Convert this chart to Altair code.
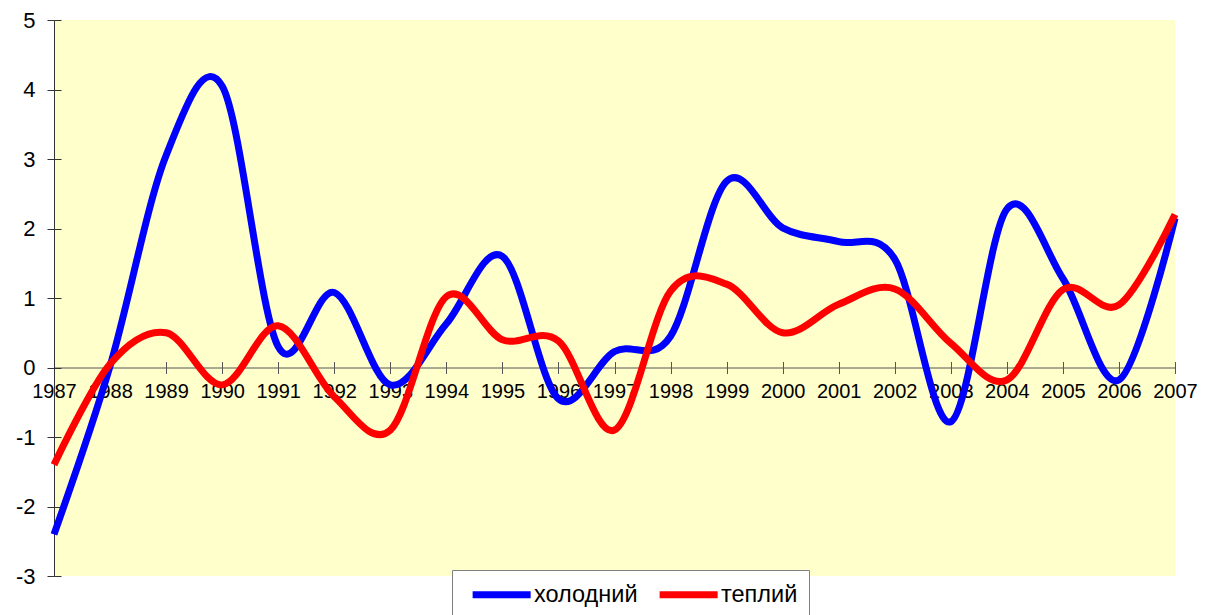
import altair as alt
import pandas as pd

years = list(range(1987, 2008))
cold = [-2.4, 0.02, 3.05, 4.05, 0.3, 1.08, -0.25, 0.63, 1.6, -0.45, 0.23,
        0.45, 2.68, 2.01, 1.81, 1.56, -0.78, 2.28, 1.28, -0.18, 2.15]
warm = [-1.4, 0.05, 0.5, -0.25, 0.6, -0.42, -0.9, 1.02, 0.4, 0.38, -0.9,
        1.1, 1.2, 0.5, 0.91, 1.13, 0.35, -0.18, 1.12, 0.9, 2.2]
series_names = ["холодний", "теплий"]
series_colors = ["#0000FF", "#FF0000"]
y_ticks = [-3, -2, -1, 0, 1, 2, 3, 4, 5]

rows = []
for y, c, w in zip(years, cold, warm):
    rows.append({"year": y, "value": c, "series": series_names[0]})
    rows.append({"year": y, "value": w, "series": series_names[1]})
df = pd.DataFrame(rows)

W, H = 1121, 556
FONT = "Liberation Sans"
zero_offset = -(H * 3 / 8)  # distance from bottom to y=0

x_scale = alt.Scale(domain=[1987, 2007], nice=False, zero=False)
y_scale = alt.Scale(domain=[-3, 5], nice=False)

lines = alt.Chart(df).mark_line(strokeWidth=7, interpolate="cardinal").encode(
    x=alt.X("year:Q", scale=x_scale,
            axis=alt.Axis(values=years, format="d", title=None, orient="bottom",
                          offset=zero_offset, labelOverlap=False, labelFlush=False,
                          labelBound=False, tickSize=6, labelPadding=8,
                          labelFontSize=20, labelFont=FONT, labelColor="black",
                          domainColor="#555555", tickColor="#555555", grid=False)),
    y=alt.Y("value:Q", scale=y_scale,
            axis=alt.Axis(values=y_ticks, title=None, orient="left", tickSize=7,
                          labelExpr="'' + datum.value",
                          labelPadding=12, labelFontSize=22, labelFont=FONT,
                          labelColor="black", domainColor="#333333",
                          tickColor="#333333", grid=False)),
    color=alt.Color("series:N",
                    scale=alt.Scale(domain=series_names, range=series_colors),
                    sort=series_names,
                    legend=alt.Legend(orient="none", legendX=398, legendY=550,
                                      direction="horizontal", title=None,
                                      symbolType="M-0.4,0H5.6", symbolStrokeWidth=7,
                                      symbolSize=374, labelFontSize=23.5,
                                      labelFont=FONT, labelColor="black",
                                      fillColor="white", strokeColor="#808080",
                                      padding=11, columnPadding=7, labelOffset=44)),
)

# inner halves of crossing ticks
inner = alt.Chart(df).mark_line(opacity=0).encode(
    x=alt.X("year:Q", scale=x_scale,
            axis=alt.Axis(values=years, orient="top", offset=-(H * 5 / 8),
                          labels=False, domain=False, tickSize=6,
                          tickColor="#555555", title=None, grid=False)),
    y=alt.Y("value:Q", scale=y_scale,
            axis=alt.Axis(values=y_ticks, orient="right", offset=-W,
                          labels=False, domain=False, tickSize=7,
                          tickColor="#333333", title=None, grid=False)),
    detail="series:N",
)

chart = alt.layer(inner, lines).resolve_axis(x="independent", y="independent").properties(
    width=W, height=H,
    background="white",
    autosize=alt.AutoSizeParams(type="none"),
    padding={"left": 46, "top": 12, "right": 30, "bottom": 60},
).configure_view(fill="#FFFFCC", stroke=None)

chart.save("out.html", embed_options={"renderer": "svg", "actions": False})
